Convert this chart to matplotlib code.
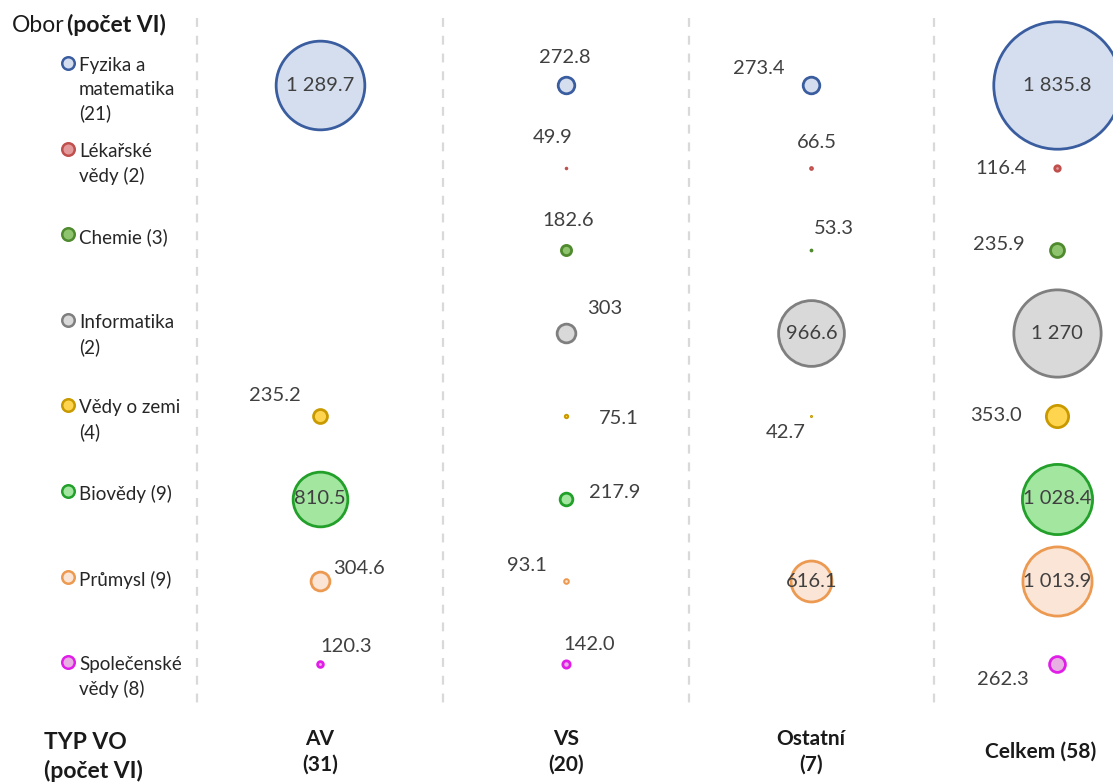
import numpy as np
import matplotlib
matplotlib.use("Agg")
import matplotlib.pyplot as plt

plt.rcParams['font.family'] = ['Lato', 'DejaVu Sans']

# --- data -----------------------------------------------------------------
obory = ["Fyzika a\nmatematika\n(21)", "Lékařské\nvědy (2)", "Chemie (3)",
         "Informatika\n(2)", "Vědy o zemi\n(4)", "Biovědy (9)", "Průmysl (9)",
         "Společenské\nvědy (8)"]
typy = ["AV\n(31)", "VS\n(20)", "Ostatní\n(7)", "Celkem (58)"]

av = [1289.7, None, None, None, 235.2, 810.5, 304.6, 120.3]
vs = [272.8, 49.9, 182.6, 303, 75.1, 217.9, 93.1, 142.0]
ostatni = [273.4, 66.5, 53.3, 966.6, 42.7, None, 616.1, None]
celkem = [1835.8, 116.4, 235.9, 1270, 353.0, 1028.4, 1013.9, 262.3]

# decimals shown in each label (rows x columns)
decimals = [[1, 1, 1, 1], [1, 1, 1, 1], [1, 1, 1, 1], [1, 0, 1, 0],
            [1, 1, 1, 1], [1, 1, 1, 1], [1, 1, 1, 1], [1, 1, 1, 1]]

# --- styling ----------------------------------------------------------------
edge_colors = ["#3A5DA0", "#C0504D", "#4F8A2E", "#7F7F7F",
               "#C99A00", "#22A02A", "#EC9A52", "#E01EE8"]
face_colors = ["#D5DEEF", "#E49A9A", "#8FC46E", "#D9D9D9",
               "#FFD54F", "#A2E6A0", "#FBE5D6", "#E8B0E2"]

# label offsets in pixels (dx right, dy down); None -> centred inside bubble
offsets = [
    [None, (-1, -28), (-53, -17), None],
    [None, (-13, -30), (6, -25), (-56, 1)],
    [None, (3, -30), (23, -22), (-58, -6)],
    [None, (39, -25), None, None],
    [(-45, -20), (53, 3), (-26, 17), (-61, 0)],
    [None, (49, -6), None, None],
    [(39, -13), (-39, -16), None, None],
    [(26, -17), (24, -19), None, (-54, 16)],
]

W, H = 1113, 784
DPI = 100
fig = plt.figure(figsize=(W / DPI, H / DPI), dpi=DPI)
ax = fig.add_axes([0, 0, 1, 1])

# map data coordinates so that columns/rows land at their pixel spots
col_px0, col_step = 320.0, 245.67
row_px0, row_step = 85.0, 82.71
ax.set_xlim((0 - col_px0) / col_step, (W - col_px0) / col_step)
ax.set_ylim((H - row_px0) / row_step, (0 - row_px0) / row_step)
ax.axis("off")

px2pt = 72.0 / DPI
px_per_value = 1 / 14.1   # bubble diameter in px per unit of value

series = [av, vs, ostatni, celkem]
label_color = "#404040"

# separators between columns
for xs in [-0.5, 0.5, 1.5, 2.5]:
    ax.plot([xs, xs], [-0.81, 7.5], color="#D9D9D9", lw=1.6,
            ls=(0, (4, 4)), zorder=0)

for c, col in enumerate(series):
    for r, v in enumerate(col):
        if v is None:
            continue
        lw = 2.0 if v > 100 else 1.4
        d_pt = max(v * px_per_value * px2pt - lw, 0.8)
        ax.scatter([c], [r], s=d_pt ** 2, facecolor=face_colors[r],
                   edgecolor=edge_colors[r], linewidth=lw, zorder=3,
                   clip_on=False)
        txt = f"{v:,.{decimals[r][c]}f}".replace(",", " ")
        off = offsets[r][c]
        if off is None:
            dx, dy = 0, 0
        else:
            dx, dy = off
        ax.annotate(txt, (c, r), xytext=(dx * px2pt, -dy * px2pt),
                    textcoords="offset points", ha="center", va="center",
                    fontsize=14.5, color=label_color, zorder=4)


def fx(px):
    return px / W


def fy(py):
    return 1 - py / H


# left legend
leg_y0, leg_step = 63, 85.6
for i, name in enumerate(obory):
    y = leg_y0 + leg_step * i
    fig.add_artist(plt.Line2D([fx(68)], [fy(y)], marker="o", markersize=9,
                              markerfacecolor=face_colors[i],
                              markeredgecolor=edge_colors[i],
                              markeredgewidth=1.8, linestyle="none"))
    fig.text(fx(79), fy(y - 6), name, ha="left", va="top", fontsize=13.5,
             color="#262626", linespacing=1.47)

# headings
fig.text(fx(12), fy(25), "Obor", ha="left", va="center", fontsize=16.5,
         color="#1a1a1a")
fig.text(fx(67), fy(25), "(počet VI)", ha="left", va="center", fontsize=16.5,
         color="#1a1a1a", fontweight="bold")
fig.text(fx(44), fy(757), "TYP VO\n(počet VI)", ha="left", va="center",
         fontsize=16.5, fontweight="bold", color="#1a1a1a", linespacing=1.42)

head_px = [320, 566, 811, 1041]
for i, t in enumerate(typy):
    fig.text(fx(head_px[i]), fy(752), t, ha="center", va="center",
             fontsize=15, fontweight="bold", color="#1a1a1a", linespacing=1.35)

fig.savefig("out.png", dpi=DPI)
